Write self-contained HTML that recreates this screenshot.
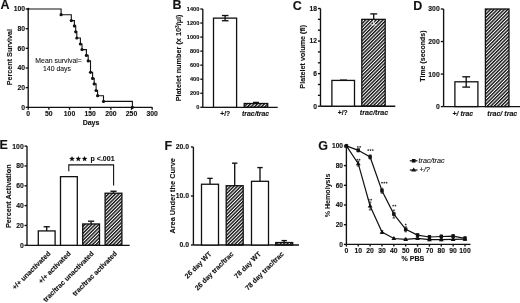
<!DOCTYPE html>
<html><head><meta charset="utf-8"><style>
html,body{margin:0;padding:0;background:#fff;width:520px;height:303px;overflow:hidden}
svg{display:block;font-family:"Liberation Sans", sans-serif;will-change:transform;filter:blur(0.3px)}
text{stroke:#111;stroke-width:0.12px}
</style></head><body>
<svg width="520" height="303" viewBox="0 0 520 303">
<defs><pattern id="h" width="2.45" height="10" patternUnits="userSpaceOnUse" patternTransform="rotate(45)"><rect width="1.4" height="10" fill="#111"/></pattern></defs>
<rect width="520" height="303" fill="#fff"/>
<text x="0.60" y="9.30" font-size="12.5" font-weight="bold" text-anchor="start" fill="#111">A</text>
<line x1="28.20" y1="9.00" x2="28.20" y2="107.30" stroke="#111" stroke-width="1.35"/>
<line x1="25.70" y1="107.30" x2="28.20" y2="107.30" stroke="#111" stroke-width="1.35"/>
<text x="25.00" y="109.73" font-size="6.8" font-weight="bold" text-anchor="end" fill="#111">0</text>
<line x1="25.70" y1="87.64" x2="28.20" y2="87.64" stroke="#111" stroke-width="1.35"/>
<text x="25.00" y="90.07" font-size="6.8" font-weight="bold" text-anchor="end" fill="#111">20</text>
<line x1="25.70" y1="67.98" x2="28.20" y2="67.98" stroke="#111" stroke-width="1.35"/>
<text x="25.00" y="70.41" font-size="6.8" font-weight="bold" text-anchor="end" fill="#111">40</text>
<line x1="25.70" y1="48.32" x2="28.20" y2="48.32" stroke="#111" stroke-width="1.35"/>
<text x="25.00" y="50.75" font-size="6.8" font-weight="bold" text-anchor="end" fill="#111">60</text>
<line x1="25.70" y1="28.66" x2="28.20" y2="28.66" stroke="#111" stroke-width="1.35"/>
<text x="25.00" y="31.09" font-size="6.8" font-weight="bold" text-anchor="end" fill="#111">80</text>
<line x1="25.70" y1="9.00" x2="28.20" y2="9.00" stroke="#111" stroke-width="1.35"/>
<text x="25.00" y="11.43" font-size="6.8" font-weight="bold" text-anchor="end" fill="#111">100</text>
<line x1="28.20" y1="107.30" x2="152.19" y2="107.30" stroke="#111" stroke-width="1.35"/>
<line x1="28.20" y1="107.30" x2="28.20" y2="109.80" stroke="#111" stroke-width="1.35"/>
<text x="28.20" y="116.48" font-size="6.8" font-weight="bold" text-anchor="middle" fill="#111">0</text>
<line x1="48.86" y1="107.30" x2="48.86" y2="109.80" stroke="#111" stroke-width="1.35"/>
<text x="48.86" y="116.48" font-size="6.8" font-weight="bold" text-anchor="middle" fill="#111">50</text>
<line x1="69.53" y1="107.30" x2="69.53" y2="109.80" stroke="#111" stroke-width="1.35"/>
<text x="69.53" y="116.48" font-size="6.8" font-weight="bold" text-anchor="middle" fill="#111">100</text>
<line x1="90.19" y1="107.30" x2="90.19" y2="109.80" stroke="#111" stroke-width="1.35"/>
<text x="90.19" y="116.48" font-size="6.8" font-weight="bold" text-anchor="middle" fill="#111">150</text>
<line x1="110.86" y1="107.30" x2="110.86" y2="109.80" stroke="#111" stroke-width="1.35"/>
<text x="110.86" y="116.48" font-size="6.8" font-weight="bold" text-anchor="middle" fill="#111">200</text>
<line x1="131.53" y1="107.30" x2="131.53" y2="109.80" stroke="#111" stroke-width="1.35"/>
<text x="131.53" y="116.48" font-size="6.8" font-weight="bold" text-anchor="middle" fill="#111">250</text>
<line x1="152.19" y1="107.30" x2="152.19" y2="109.80" stroke="#111" stroke-width="1.35"/>
<text x="152.19" y="116.48" font-size="6.8" font-weight="bold" text-anchor="middle" fill="#111">300</text>
<text x="91.00" y="124.60" font-size="7.0" font-weight="bold" text-anchor="middle" fill="#111">Days</text>
<text x="12.20" y="57.10" font-size="7.2" font-weight="bold" text-anchor="middle" fill="#111" transform="rotate(-90 12.20 57.10)">Percent Survival</text>
<text x="58.60" y="62.70" font-size="6.9" font-weight="normal" text-anchor="middle" fill="#111" style="stroke-width:0.08px">Mean survival=</text>
<text x="57.00" y="70.50" font-size="6.9" font-weight="normal" text-anchor="middle" fill="#111" style="stroke-width:0.08px">140 days</text>
<path d="M28.20,9.00 H61.10 V14.70 H71.30 V20.60 H74.40 V25.90 H75.70 V31.80 H76.80 V38.00 H80.40 V44.00 H82.00 V49.60 H86.40 V55.40 H88.20 V60.90 H90.50 V72.30 H92.60 V78.40 H94.20 V83.90 H96.10 V90.50 H97.60 V95.70 H103.50 V101.40 H132.40 V107.30" stroke="#111" stroke-width="1.1" fill="none"/>
<circle cx="61.10" cy="14.70" r="1.6" fill="#111"/>
<circle cx="71.30" cy="20.60" r="1.6" fill="#111"/>
<circle cx="74.40" cy="25.90" r="1.6" fill="#111"/>
<circle cx="75.70" cy="31.80" r="1.6" fill="#111"/>
<circle cx="76.80" cy="38.00" r="1.6" fill="#111"/>
<circle cx="80.40" cy="44.00" r="1.6" fill="#111"/>
<circle cx="82.00" cy="49.60" r="1.6" fill="#111"/>
<circle cx="86.40" cy="55.40" r="1.6" fill="#111"/>
<circle cx="88.20" cy="60.90" r="1.6" fill="#111"/>
<circle cx="90.50" cy="72.30" r="1.6" fill="#111"/>
<circle cx="92.60" cy="78.40" r="1.6" fill="#111"/>
<circle cx="94.20" cy="83.90" r="1.6" fill="#111"/>
<circle cx="96.10" cy="90.50" r="1.6" fill="#111"/>
<circle cx="97.60" cy="95.70" r="1.6" fill="#111"/>
<circle cx="103.50" cy="101.40" r="1.6" fill="#111"/>
<circle cx="132.40" cy="107.30" r="1.6" fill="#111"/>
<circle cx="28.20" cy="9.00" r="1.2" fill="#111"/>
<text x="172.60" y="9.20" font-size="12.5" font-weight="bold" text-anchor="start" fill="#111">B</text>
<line x1="202.80" y1="9.00" x2="202.80" y2="107.30" stroke="#111" stroke-width="1.35"/>
<line x1="200.30" y1="107.30" x2="202.80" y2="107.30" stroke="#111" stroke-width="1.35"/>
<text x="199.30" y="109.30" font-size="5.6" font-weight="bold" text-anchor="end" fill="#111">0</text>
<line x1="200.30" y1="93.26" x2="202.80" y2="93.26" stroke="#111" stroke-width="1.35"/>
<text x="199.30" y="95.26" font-size="5.6" font-weight="bold" text-anchor="end" fill="#111">200</text>
<line x1="200.30" y1="79.21" x2="202.80" y2="79.21" stroke="#111" stroke-width="1.35"/>
<text x="199.30" y="81.22" font-size="5.6" font-weight="bold" text-anchor="end" fill="#111">400</text>
<line x1="200.30" y1="65.17" x2="202.80" y2="65.17" stroke="#111" stroke-width="1.35"/>
<text x="199.30" y="67.18" font-size="5.6" font-weight="bold" text-anchor="end" fill="#111">600</text>
<line x1="200.30" y1="51.13" x2="202.80" y2="51.13" stroke="#111" stroke-width="1.35"/>
<text x="199.30" y="53.13" font-size="5.6" font-weight="bold" text-anchor="end" fill="#111">800</text>
<line x1="200.30" y1="37.09" x2="202.80" y2="37.09" stroke="#111" stroke-width="1.35"/>
<text x="199.30" y="39.09" font-size="5.6" font-weight="bold" text-anchor="end" fill="#111">1000</text>
<line x1="200.30" y1="23.04" x2="202.80" y2="23.04" stroke="#111" stroke-width="1.35"/>
<text x="199.30" y="25.05" font-size="5.6" font-weight="bold" text-anchor="end" fill="#111">1200</text>
<line x1="200.30" y1="9.00" x2="202.80" y2="9.00" stroke="#111" stroke-width="1.35"/>
<text x="199.30" y="11.00" font-size="5.6" font-weight="bold" text-anchor="end" fill="#111">1400</text>
<line x1="202.80" y1="107.30" x2="277.70" y2="107.30" stroke="#111" stroke-width="1.35"/>
<rect x="213.50" y="18.13" width="23.10" height="89.17" fill="#fff" stroke="#111" stroke-width="1.3"/>
<line x1="225.10" y1="15.53" x2="225.10" y2="20.73" stroke="#111" stroke-width="1.35"/>
<line x1="221.90" y1="15.53" x2="228.50" y2="15.53" stroke="#111" stroke-width="1.35"/>
<line x1="221.90" y1="20.73" x2="228.50" y2="20.73" stroke="#111" stroke-width="1.35"/>
<rect x="244.20" y="103.50" width="23.50" height="3.80" fill="url(#h)" stroke="#111" stroke-width="1.3"/>
<line x1="253.00" y1="102.40" x2="259.00" y2="102.40" stroke="#111" stroke-width="1.35"/>
<line x1="256.00" y1="102.40" x2="256.00" y2="103.50" stroke="#111" stroke-width="1.35"/>
<text x="225.30" y="115.60" font-size="6.7" font-weight="bold" text-anchor="middle" fill="#111">+/?</text>
<text x="255.60" y="115.60" font-size="6.9" font-weight="bold" font-style="italic" text-anchor="middle" fill="#111">trac/trac</text>
<text x="181.50" y="57.90" font-size="7.3" font-weight="bold" text-anchor="middle" fill="#111" transform="rotate(-90 181.50 57.90)">Platelet number (x 10<tspan font-size="5" dy="-2.6">3</tspan><tspan dy="2.6">/µl)</tspan></text>
<text x="292.80" y="9.80" font-size="12.5" font-weight="bold" text-anchor="start" fill="#111">C</text>
<line x1="320.50" y1="8.50" x2="320.50" y2="106.20" stroke="#111" stroke-width="1.35"/>
<line x1="317.90" y1="106.20" x2="320.50" y2="106.20" stroke="#111" stroke-width="1.35"/>
<text x="317.00" y="108.60" font-size="6.7" font-weight="bold" text-anchor="end" fill="#111">0</text>
<line x1="317.90" y1="73.63" x2="320.50" y2="73.63" stroke="#111" stroke-width="1.35"/>
<text x="317.00" y="76.03" font-size="6.7" font-weight="bold" text-anchor="end" fill="#111">6</text>
<line x1="317.90" y1="41.07" x2="320.50" y2="41.07" stroke="#111" stroke-width="1.35"/>
<text x="317.00" y="43.47" font-size="6.7" font-weight="bold" text-anchor="end" fill="#111">12</text>
<line x1="317.90" y1="8.50" x2="320.50" y2="8.50" stroke="#111" stroke-width="1.35"/>
<text x="317.00" y="10.90" font-size="6.7" font-weight="bold" text-anchor="end" fill="#111">18</text>
<line x1="317.90" y1="95.34" x2="320.50" y2="95.34" stroke="#111" stroke-width="1.35"/>
<line x1="317.90" y1="84.49" x2="320.50" y2="84.49" stroke="#111" stroke-width="1.35"/>
<line x1="317.90" y1="62.78" x2="320.50" y2="62.78" stroke="#111" stroke-width="1.35"/>
<line x1="317.90" y1="51.92" x2="320.50" y2="51.92" stroke="#111" stroke-width="1.35"/>
<line x1="317.90" y1="30.21" x2="320.50" y2="30.21" stroke="#111" stroke-width="1.35"/>
<line x1="317.90" y1="19.36" x2="320.50" y2="19.36" stroke="#111" stroke-width="1.35"/>
<line x1="320.50" y1="106.20" x2="395.30" y2="106.20" stroke="#111" stroke-width="1.35"/>
<rect x="331.90" y="80.42" width="22.60" height="25.78" fill="#fff" stroke="#111" stroke-width="1.3"/>
<line x1="340.00" y1="80.12" x2="347.00" y2="80.12" stroke="#111" stroke-width="1.35"/>
<rect x="361.80" y="19.36" width="23.40" height="86.84" fill="url(#h)" stroke="#111" stroke-width="1.3"/>
<line x1="373.70" y1="19.36" x2="373.70" y2="13.90" stroke="#111" stroke-width="1.35"/>
<line x1="370.30" y1="13.90" x2="377.20" y2="13.90" stroke="#111" stroke-width="1.35"/>
<line x1="373.70" y1="19.96" x2="373.70" y2="24.90" stroke="#fff" stroke-width="0.9"/>
<line x1="370.80" y1="24.90" x2="376.60" y2="24.90" stroke="#fff" stroke-width="0.9"/>
<text x="342.80" y="114.80" font-size="6.7" font-weight="bold" text-anchor="middle" fill="#111">+/?</text>
<text x="374.00" y="114.80" font-size="7.2" font-weight="bold" font-style="italic" text-anchor="middle" fill="#111">trac/trac</text>
<text x="304.90" y="56.70" font-size="7.2" font-weight="bold" text-anchor="middle" fill="#111" transform="rotate(-90 304.90 56.70)">Platelet volume (fl)</text>
<text x="413.20" y="10.30" font-size="12.5" font-weight="bold" text-anchor="start" fill="#111">D</text>
<line x1="443.60" y1="9.00" x2="443.60" y2="106.60" stroke="#111" stroke-width="1.35"/>
<line x1="440.80" y1="106.60" x2="443.60" y2="106.60" stroke="#111" stroke-width="1.35"/>
<text x="439.70" y="109.03" font-size="6.8" font-weight="bold" text-anchor="end" fill="#111">0</text>
<line x1="440.80" y1="74.07" x2="443.60" y2="74.07" stroke="#111" stroke-width="1.35"/>
<text x="439.70" y="76.50" font-size="6.8" font-weight="bold" text-anchor="end" fill="#111">100</text>
<line x1="440.80" y1="41.53" x2="443.60" y2="41.53" stroke="#111" stroke-width="1.35"/>
<text x="439.70" y="43.97" font-size="6.8" font-weight="bold" text-anchor="end" fill="#111">200</text>
<line x1="440.80" y1="9.00" x2="443.60" y2="9.00" stroke="#111" stroke-width="1.35"/>
<text x="439.70" y="11.43" font-size="6.8" font-weight="bold" text-anchor="end" fill="#111">300</text>
<line x1="443.60" y1="106.60" x2="520.00" y2="106.60" stroke="#111" stroke-width="1.35"/>
<rect x="454.90" y="81.80" width="23.00" height="24.80" fill="#fff" stroke="#111" stroke-width="1.3"/>
<line x1="466.20" y1="76.80" x2="466.20" y2="87.10" stroke="#111" stroke-width="1.35"/>
<line x1="462.30" y1="76.80" x2="470.10" y2="76.80" stroke="#111" stroke-width="1.35"/>
<line x1="462.30" y1="87.10" x2="470.10" y2="87.10" stroke="#111" stroke-width="1.35"/>
<rect x="485.40" y="9.00" width="23.60" height="97.60" fill="url(#h)" stroke="#111" stroke-width="1.3"/>
<text x="462.80" y="115.50" font-size="6.9" font-weight="bold" font-style="italic" text-anchor="middle" fill="#111">+/ trac</text>
<text x="502.30" y="115.50" font-size="7.1" font-weight="bold" font-style="italic" text-anchor="middle" fill="#111">trac/ trac</text>
<text x="425.30" y="56.10" font-size="7.0" font-weight="bold" text-anchor="middle" fill="#111" transform="rotate(-90 425.30 56.10)">Time (seconds)</text>
<text x="-0.60" y="149.10" font-size="12.5" font-weight="bold" text-anchor="start" fill="#111">E</text>
<line x1="27.00" y1="146.10" x2="27.00" y2="245.30" stroke="#111" stroke-width="1.35"/>
<line x1="24.50" y1="245.30" x2="27.00" y2="245.30" stroke="#111" stroke-width="1.35"/>
<text x="23.70" y="247.73" font-size="6.8" font-weight="bold" text-anchor="end" fill="#111">0</text>
<line x1="24.50" y1="225.46" x2="27.00" y2="225.46" stroke="#111" stroke-width="1.35"/>
<text x="23.70" y="227.89" font-size="6.8" font-weight="bold" text-anchor="end" fill="#111">20</text>
<line x1="24.50" y1="205.62" x2="27.00" y2="205.62" stroke="#111" stroke-width="1.35"/>
<text x="23.70" y="208.05" font-size="6.8" font-weight="bold" text-anchor="end" fill="#111">40</text>
<line x1="24.50" y1="185.78" x2="27.00" y2="185.78" stroke="#111" stroke-width="1.35"/>
<text x="23.70" y="188.21" font-size="6.8" font-weight="bold" text-anchor="end" fill="#111">60</text>
<line x1="24.50" y1="165.94" x2="27.00" y2="165.94" stroke="#111" stroke-width="1.35"/>
<text x="23.70" y="168.37" font-size="6.8" font-weight="bold" text-anchor="end" fill="#111">80</text>
<line x1="24.50" y1="146.10" x2="27.00" y2="146.10" stroke="#111" stroke-width="1.35"/>
<text x="23.70" y="148.53" font-size="6.8" font-weight="bold" text-anchor="end" fill="#111">100</text>
<line x1="27.00" y1="245.30" x2="129.70" y2="245.30" stroke="#111" stroke-width="1.35"/>
<rect x="38.30" y="230.92" width="16.80" height="14.38" fill="#fff" stroke="#111" stroke-width="1.3"/>
<line x1="46.70" y1="230.92" x2="46.70" y2="226.75" stroke="#111" stroke-width="1.35"/>
<line x1="43.60" y1="226.75" x2="49.80" y2="226.75" stroke="#111" stroke-width="1.35"/>
<rect x="60.50" y="176.65" width="16.80" height="68.65" fill="#fff" stroke="#111" stroke-width="1.3"/>
<rect x="82.70" y="223.97" width="16.80" height="21.33" fill="url(#h)" stroke="#111" stroke-width="1.3"/>
<line x1="91.10" y1="223.97" x2="91.10" y2="221.19" stroke="#111" stroke-width="1.35"/>
<line x1="88.00" y1="221.19" x2="94.20" y2="221.19" stroke="#111" stroke-width="1.35"/>
<rect x="105.10" y="193.22" width="16.80" height="52.08" fill="url(#h)" stroke="#111" stroke-width="1.3"/>
<line x1="113.50" y1="193.22" x2="113.50" y2="191.24" stroke="#111" stroke-width="1.35"/>
<line x1="110.40" y1="191.24" x2="116.60" y2="191.24" stroke="#111" stroke-width="1.35"/>
<path d="M68.8,171.2 V164.9 H113.6 V185.5" stroke="#111" stroke-width="1.1" fill="none"/>
<polygon points="72.00,155.90 72.79,157.81 74.85,157.97 73.28,159.32 73.76,161.33 72.00,160.25 70.24,161.33 70.72,159.32 69.15,157.97 71.21,157.81" fill="#111"/>
<polygon points="78.30,155.90 79.09,157.81 81.15,157.97 79.58,159.32 80.06,161.33 78.30,160.25 76.54,161.33 77.02,159.32 75.45,157.97 77.51,157.81" fill="#111"/>
<polygon points="84.60,155.90 85.39,157.81 87.45,157.97 85.88,159.32 86.36,161.33 84.60,160.25 82.84,161.33 83.32,159.32 81.75,157.97 83.81,157.81" fill="#111"/>
<text x="90.60" y="161.20" font-size="7.0" font-weight="bold" text-anchor="start" fill="#111">p &lt;.001</text>
<text x="11.40" y="196.20" font-size="7.3" font-weight="bold" text-anchor="middle" fill="#111" transform="rotate(-90 11.40 196.20)">Percent Activation</text>
<text x="51.00" y="254.00" font-size="7.0" font-weight="bold" text-anchor="end" fill="#111" transform="rotate(-45 51.00 254.00)">+/+ unactivated</text>
<text x="71.20" y="254.00" font-size="7.0" font-weight="bold" text-anchor="end" fill="#111" transform="rotate(-45 71.20 254.00)">+/+ activated</text>
<text x="94.40" y="254.00" font-size="7.0" font-weight="bold" text-anchor="end" fill="#111" transform="rotate(-45 94.40 254.00)">trac/trac unactivated</text>
<text x="117.60" y="254.00" font-size="7.0" font-weight="bold" text-anchor="end" fill="#111" transform="rotate(-45 117.60 254.00)">trac/trac activated</text>
<text x="164.40" y="149.60" font-size="12.5" font-weight="bold" text-anchor="start" fill="#111">F</text>
<line x1="193.40" y1="147.00" x2="193.40" y2="245.00" stroke="#111" stroke-width="1.35"/>
<line x1="190.90" y1="245.00" x2="193.40" y2="245.00" stroke="#111" stroke-width="1.35"/>
<text x="189.00" y="247.43" font-size="6.8" font-weight="bold" text-anchor="end" fill="#111">0.0</text>
<line x1="190.90" y1="196.00" x2="193.40" y2="196.00" stroke="#111" stroke-width="1.35"/>
<text x="189.00" y="198.43" font-size="6.8" font-weight="bold" text-anchor="end" fill="#111">10.0</text>
<line x1="190.90" y1="147.00" x2="193.40" y2="147.00" stroke="#111" stroke-width="1.35"/>
<text x="189.00" y="149.43" font-size="6.8" font-weight="bold" text-anchor="end" fill="#111">20.0</text>
<line x1="193.40" y1="245.00" x2="299.00" y2="245.00" stroke="#111" stroke-width="1.35"/>
<rect x="201.50" y="184.24" width="17.00" height="60.76" fill="#fff" stroke="#111" stroke-width="1.3"/>
<line x1="210.00" y1="184.24" x2="210.00" y2="178.36" stroke="#111" stroke-width="1.35"/>
<line x1="207.30" y1="178.36" x2="212.70" y2="178.36" stroke="#111" stroke-width="1.35"/>
<rect x="226.20" y="185.71" width="17.00" height="59.29" fill="url(#h)" stroke="#111" stroke-width="1.3"/>
<line x1="234.70" y1="185.71" x2="234.70" y2="163.17" stroke="#111" stroke-width="1.35"/>
<line x1="232.00" y1="163.17" x2="237.40" y2="163.17" stroke="#111" stroke-width="1.35"/>
<rect x="251.50" y="181.30" width="17.00" height="63.70" fill="#fff" stroke="#111" stroke-width="1.3"/>
<line x1="260.00" y1="181.30" x2="260.00" y2="167.58" stroke="#111" stroke-width="1.35"/>
<line x1="257.30" y1="167.58" x2="262.70" y2="167.58" stroke="#111" stroke-width="1.35"/>
<rect x="275.70" y="242.55" width="17.00" height="2.45" fill="url(#h)" stroke="#111" stroke-width="1.3"/>
<line x1="284.20" y1="242.55" x2="284.20" y2="240.59" stroke="#111" stroke-width="1.35"/>
<line x1="281.50" y1="240.59" x2="286.90" y2="240.59" stroke="#111" stroke-width="1.35"/>
<text x="175.30" y="195.80" font-size="7.35" font-weight="bold" text-anchor="middle" fill="#111" transform="rotate(-90 175.30 195.80)">Area Under the Curve</text>
<text x="212.00" y="254.40" font-size="7.0" font-weight="bold" text-anchor="end" fill="#111" transform="rotate(-45 212.00 254.40)">26 day WT</text>
<text x="234.00" y="254.40" font-size="7.0" font-weight="bold" text-anchor="end" fill="#111" transform="rotate(-45 234.00 254.40)">26 day trac/trac</text>
<text x="261.50" y="254.40" font-size="7.0" font-weight="bold" text-anchor="end" fill="#111" transform="rotate(-45 261.50 254.40)">78 day WT</text>
<text x="284.30" y="254.40" font-size="7.0" font-weight="bold" text-anchor="end" fill="#111" transform="rotate(-45 284.30 254.40)">78 day trac/trac</text>
<text x="318.20" y="150.00" font-size="12.5" font-weight="bold" text-anchor="start" fill="#111">G</text>
<line x1="346.40" y1="145.90" x2="346.40" y2="244.40" stroke="#111" stroke-width="1.35"/>
<line x1="343.90" y1="244.40" x2="346.40" y2="244.40" stroke="#111" stroke-width="1.35"/>
<text x="343.00" y="246.76" font-size="6.6" font-weight="bold" text-anchor="end" fill="#111">0</text>
<line x1="343.90" y1="224.70" x2="346.40" y2="224.70" stroke="#111" stroke-width="1.35"/>
<text x="343.00" y="227.06" font-size="6.6" font-weight="bold" text-anchor="end" fill="#111">20</text>
<line x1="343.90" y1="205.00" x2="346.40" y2="205.00" stroke="#111" stroke-width="1.35"/>
<text x="343.00" y="207.36" font-size="6.6" font-weight="bold" text-anchor="end" fill="#111">40</text>
<line x1="343.90" y1="185.30" x2="346.40" y2="185.30" stroke="#111" stroke-width="1.35"/>
<text x="343.00" y="187.66" font-size="6.6" font-weight="bold" text-anchor="end" fill="#111">60</text>
<line x1="343.90" y1="165.60" x2="346.40" y2="165.60" stroke="#111" stroke-width="1.35"/>
<text x="343.00" y="167.96" font-size="6.6" font-weight="bold" text-anchor="end" fill="#111">80</text>
<line x1="343.90" y1="145.90" x2="346.40" y2="145.90" stroke="#111" stroke-width="1.35"/>
<text x="343.00" y="148.26" font-size="6.6" font-weight="bold" text-anchor="end" fill="#111">100</text>
<line x1="346.40" y1="244.40" x2="470.50" y2="244.40" stroke="#111" stroke-width="1.35"/>
<line x1="346.40" y1="244.40" x2="346.40" y2="246.60" stroke="#111" stroke-width="1.35"/>
<text x="346.40" y="253.43" font-size="6.8" font-weight="bold" text-anchor="middle" fill="#111">0</text>
<line x1="358.26" y1="244.40" x2="358.26" y2="246.60" stroke="#111" stroke-width="1.35"/>
<text x="358.26" y="253.43" font-size="6.8" font-weight="bold" text-anchor="middle" fill="#111">10</text>
<line x1="370.12" y1="244.40" x2="370.12" y2="246.60" stroke="#111" stroke-width="1.35"/>
<text x="370.12" y="253.43" font-size="6.8" font-weight="bold" text-anchor="middle" fill="#111">20</text>
<line x1="381.98" y1="244.40" x2="381.98" y2="246.60" stroke="#111" stroke-width="1.35"/>
<text x="381.98" y="253.43" font-size="6.8" font-weight="bold" text-anchor="middle" fill="#111">30</text>
<line x1="393.84" y1="244.40" x2="393.84" y2="246.60" stroke="#111" stroke-width="1.35"/>
<text x="393.84" y="253.43" font-size="6.8" font-weight="bold" text-anchor="middle" fill="#111">40</text>
<line x1="405.70" y1="244.40" x2="405.70" y2="246.60" stroke="#111" stroke-width="1.35"/>
<text x="405.70" y="253.43" font-size="6.8" font-weight="bold" text-anchor="middle" fill="#111">50</text>
<line x1="417.56" y1="244.40" x2="417.56" y2="246.60" stroke="#111" stroke-width="1.35"/>
<text x="417.56" y="253.43" font-size="6.8" font-weight="bold" text-anchor="middle" fill="#111">60</text>
<line x1="429.42" y1="244.40" x2="429.42" y2="246.60" stroke="#111" stroke-width="1.35"/>
<text x="429.42" y="253.43" font-size="6.8" font-weight="bold" text-anchor="middle" fill="#111">70</text>
<line x1="441.28" y1="244.40" x2="441.28" y2="246.60" stroke="#111" stroke-width="1.35"/>
<text x="441.28" y="253.43" font-size="6.8" font-weight="bold" text-anchor="middle" fill="#111">80</text>
<line x1="453.14" y1="244.40" x2="453.14" y2="246.60" stroke="#111" stroke-width="1.35"/>
<text x="453.14" y="253.43" font-size="6.8" font-weight="bold" text-anchor="middle" fill="#111">90</text>
<line x1="465.00" y1="244.40" x2="465.00" y2="246.60" stroke="#111" stroke-width="1.35"/>
<text x="465.00" y="253.43" font-size="6.8" font-weight="bold" text-anchor="middle" fill="#111">100</text>
<text x="412.90" y="261.00" font-size="7.1" font-weight="bold" text-anchor="middle" fill="#111">% PBS</text>
<text x="329.80" y="195.40" font-size="7.1" font-weight="bold" text-anchor="middle" fill="#111" transform="rotate(-90 329.80 195.40)" style="stroke-width:0.05px">% Hemolysis</text>
<path d="M346.40,145.90 L358.26,150.33 L370.12,156.93 L381.98,190.72 L393.84,214.06 L405.70,229.33 L417.56,235.14 L429.42,237.01 L441.28,236.52 L453.14,236.13 L465.00,238.29" stroke="#111" stroke-width="1.2" fill="none"/>
<path d="M346.40,145.90 L358.26,163.63 L370.12,205.99 L381.98,232.09 L393.84,238.49 L405.70,239.38 L417.56,238.29 L429.42,239.67 L441.28,239.67 L453.14,239.38 L465.00,239.18" stroke="#111" stroke-width="1.2" fill="none"/>
<rect x="344.65" y="144.15" width="3.5" height="3.5" fill="#111"/>
<rect x="356.51" y="148.58" width="3.5" height="3.5" fill="#111"/>
<rect x="368.37" y="155.18" width="3.5" height="3.5" fill="#111"/>
<rect x="380.23" y="188.97" width="3.5" height="3.5" fill="#111"/>
<rect x="392.09" y="212.31" width="3.5" height="3.5" fill="#111"/>
<rect x="403.95" y="227.58" width="3.5" height="3.5" fill="#111"/>
<rect x="415.81" y="233.39" width="3.5" height="3.5" fill="#111"/>
<rect x="427.67" y="235.26" width="3.5" height="3.5" fill="#111"/>
<rect x="439.53" y="234.77" width="3.5" height="3.5" fill="#111"/>
<rect x="451.39" y="234.38" width="3.5" height="3.5" fill="#111"/>
<rect x="463.25" y="236.54" width="3.5" height="3.5" fill="#111"/>
<path d="M346.40,143.50 L348.80,147.50 L344.00,147.50 Z" fill="#111"/>
<path d="M358.26,161.23 L360.66,165.23 L355.86,165.23 Z" fill="#111"/>
<path d="M370.12,203.59 L372.52,207.59 L367.72,207.59 Z" fill="#111"/>
<path d="M381.98,229.69 L384.38,233.69 L379.58,233.69 Z" fill="#111"/>
<path d="M393.84,236.09 L396.24,240.09 L391.44,240.09 Z" fill="#111"/>
<path d="M405.70,236.98 L408.10,240.98 L403.30,240.98 Z" fill="#111"/>
<path d="M417.56,235.89 L419.96,239.89 L415.16,239.89 Z" fill="#111"/>
<path d="M429.42,237.27 L431.82,241.27 L427.02,241.27 Z" fill="#111"/>
<path d="M441.28,237.27 L443.68,241.27 L438.88,241.27 Z" fill="#111"/>
<path d="M453.14,236.98 L455.54,240.98 L450.74,240.98 Z" fill="#111"/>
<path d="M465.00,236.78 L467.40,240.78 L462.60,240.78 Z" fill="#111"/>
<line x1="358.26" y1="151.81" x2="358.26" y2="148.86" stroke="#111" stroke-width="0.8"/>
<line x1="356.96" y1="148.86" x2="359.56" y2="148.86" stroke="#111" stroke-width="0.8"/>
<line x1="356.96" y1="151.81" x2="359.56" y2="151.81" stroke="#111" stroke-width="0.8"/>
<line x1="370.12" y1="158.90" x2="370.12" y2="154.96" stroke="#111" stroke-width="0.8"/>
<line x1="368.82" y1="154.96" x2="371.42" y2="154.96" stroke="#111" stroke-width="0.8"/>
<line x1="368.82" y1="158.90" x2="371.42" y2="158.90" stroke="#111" stroke-width="0.8"/>
<line x1="381.98" y1="193.18" x2="381.98" y2="188.25" stroke="#111" stroke-width="0.8"/>
<line x1="380.68" y1="188.25" x2="383.28" y2="188.25" stroke="#111" stroke-width="0.8"/>
<line x1="380.68" y1="193.18" x2="383.28" y2="193.18" stroke="#111" stroke-width="0.8"/>
<line x1="393.84" y1="218.00" x2="393.84" y2="210.12" stroke="#111" stroke-width="0.8"/>
<line x1="392.54" y1="210.12" x2="395.14" y2="210.12" stroke="#111" stroke-width="0.8"/>
<line x1="392.54" y1="218.00" x2="395.14" y2="218.00" stroke="#111" stroke-width="0.8"/>
<line x1="405.70" y1="231.79" x2="405.70" y2="226.87" stroke="#111" stroke-width="0.8"/>
<line x1="404.40" y1="226.87" x2="407.00" y2="226.87" stroke="#111" stroke-width="0.8"/>
<line x1="404.40" y1="231.79" x2="407.00" y2="231.79" stroke="#111" stroke-width="0.8"/>
<line x1="417.56" y1="236.62" x2="417.56" y2="233.66" stroke="#111" stroke-width="0.8"/>
<line x1="416.26" y1="233.66" x2="418.86" y2="233.66" stroke="#111" stroke-width="0.8"/>
<line x1="416.26" y1="236.62" x2="418.86" y2="236.62" stroke="#111" stroke-width="0.8"/>
<line x1="429.42" y1="238.49" x2="429.42" y2="235.53" stroke="#111" stroke-width="0.8"/>
<line x1="428.12" y1="235.53" x2="430.72" y2="235.53" stroke="#111" stroke-width="0.8"/>
<line x1="428.12" y1="238.49" x2="430.72" y2="238.49" stroke="#111" stroke-width="0.8"/>
<line x1="441.28" y1="238.00" x2="441.28" y2="235.04" stroke="#111" stroke-width="0.8"/>
<line x1="439.98" y1="235.04" x2="442.58" y2="235.04" stroke="#111" stroke-width="0.8"/>
<line x1="439.98" y1="238.00" x2="442.58" y2="238.00" stroke="#111" stroke-width="0.8"/>
<line x1="453.14" y1="237.60" x2="453.14" y2="234.65" stroke="#111" stroke-width="0.8"/>
<line x1="451.84" y1="234.65" x2="454.44" y2="234.65" stroke="#111" stroke-width="0.8"/>
<line x1="451.84" y1="237.60" x2="454.44" y2="237.60" stroke="#111" stroke-width="0.8"/>
<line x1="465.00" y1="239.77" x2="465.00" y2="236.82" stroke="#111" stroke-width="0.8"/>
<line x1="463.70" y1="236.82" x2="466.30" y2="236.82" stroke="#111" stroke-width="0.8"/>
<line x1="463.70" y1="239.77" x2="466.30" y2="239.77" stroke="#111" stroke-width="0.8"/>
<line x1="358.26" y1="166.09" x2="358.26" y2="161.17" stroke="#111" stroke-width="0.8"/>
<line x1="356.96" y1="161.17" x2="359.56" y2="161.17" stroke="#111" stroke-width="0.8"/>
<line x1="356.96" y1="166.09" x2="359.56" y2="166.09" stroke="#111" stroke-width="0.8"/>
<line x1="370.12" y1="209.93" x2="370.12" y2="202.05" stroke="#111" stroke-width="0.8"/>
<line x1="368.82" y1="202.05" x2="371.42" y2="202.05" stroke="#111" stroke-width="0.8"/>
<line x1="368.82" y1="209.93" x2="371.42" y2="209.93" stroke="#111" stroke-width="0.8"/>
<line x1="381.98" y1="233.56" x2="381.98" y2="230.61" stroke="#111" stroke-width="0.8"/>
<line x1="380.68" y1="230.61" x2="383.28" y2="230.61" stroke="#111" stroke-width="0.8"/>
<line x1="380.68" y1="233.56" x2="383.28" y2="233.56" stroke="#111" stroke-width="0.8"/>
<line x1="393.84" y1="239.47" x2="393.84" y2="237.50" stroke="#111" stroke-width="0.8"/>
<line x1="392.54" y1="237.50" x2="395.14" y2="237.50" stroke="#111" stroke-width="0.8"/>
<line x1="392.54" y1="239.47" x2="395.14" y2="239.47" stroke="#111" stroke-width="0.8"/>
<line x1="405.70" y1="240.36" x2="405.70" y2="238.39" stroke="#111" stroke-width="0.8"/>
<line x1="404.40" y1="238.39" x2="407.00" y2="238.39" stroke="#111" stroke-width="0.8"/>
<line x1="404.40" y1="240.36" x2="407.00" y2="240.36" stroke="#111" stroke-width="0.8"/>
<line x1="417.56" y1="239.28" x2="417.56" y2="237.31" stroke="#111" stroke-width="0.8"/>
<line x1="416.26" y1="237.31" x2="418.86" y2="237.31" stroke="#111" stroke-width="0.8"/>
<line x1="416.26" y1="239.28" x2="418.86" y2="239.28" stroke="#111" stroke-width="0.8"/>
<line x1="429.42" y1="240.66" x2="429.42" y2="238.69" stroke="#111" stroke-width="0.8"/>
<line x1="428.12" y1="238.69" x2="430.72" y2="238.69" stroke="#111" stroke-width="0.8"/>
<line x1="428.12" y1="240.66" x2="430.72" y2="240.66" stroke="#111" stroke-width="0.8"/>
<line x1="441.28" y1="240.66" x2="441.28" y2="238.69" stroke="#111" stroke-width="0.8"/>
<line x1="439.98" y1="238.69" x2="442.58" y2="238.69" stroke="#111" stroke-width="0.8"/>
<line x1="439.98" y1="240.66" x2="442.58" y2="240.66" stroke="#111" stroke-width="0.8"/>
<line x1="453.14" y1="240.36" x2="453.14" y2="238.39" stroke="#111" stroke-width="0.8"/>
<line x1="451.84" y1="238.39" x2="454.44" y2="238.39" stroke="#111" stroke-width="0.8"/>
<line x1="451.84" y1="240.36" x2="454.44" y2="240.36" stroke="#111" stroke-width="0.8"/>
<line x1="465.00" y1="240.16" x2="465.00" y2="238.19" stroke="#111" stroke-width="0.8"/>
<line x1="463.70" y1="238.19" x2="466.30" y2="238.19" stroke="#111" stroke-width="0.8"/>
<line x1="463.70" y1="240.16" x2="466.30" y2="240.16" stroke="#111" stroke-width="0.8"/>
<polygon points="357.85,145.75 358.18,146.54 359.04,146.61 358.38,147.17 358.58,148.01 357.85,147.56 357.12,148.01 357.32,147.17 356.66,146.61 357.52,146.54" fill="#111"/>
<polygon points="360.15,145.75 360.48,146.54 361.34,146.61 360.68,147.17 360.88,148.01 360.15,147.56 359.42,148.01 359.62,147.17 358.96,146.61 359.82,146.54" fill="#111"/>
<polygon points="368.20,148.85 368.53,149.64 369.39,149.71 368.73,150.27 368.93,151.11 368.20,150.66 367.47,151.11 367.67,150.27 367.01,149.71 367.87,149.64" fill="#111"/>
<polygon points="370.50,148.85 370.83,149.64 371.69,149.71 371.03,150.27 371.23,151.11 370.50,150.66 369.77,151.11 369.97,150.27 369.31,149.71 370.17,149.64" fill="#111"/>
<polygon points="372.80,148.85 373.13,149.64 373.99,149.71 373.33,150.27 373.53,151.11 372.80,150.66 372.07,151.11 372.27,150.27 371.61,149.71 372.47,149.64" fill="#111"/>
<polygon points="382.00,181.55 382.33,182.34 383.19,182.41 382.53,182.97 382.73,183.81 382.00,183.36 381.27,183.81 381.47,182.97 380.81,182.41 381.67,182.34" fill="#111"/>
<polygon points="384.30,181.55 384.63,182.34 385.49,182.41 384.83,182.97 385.03,183.81 384.30,183.36 383.57,183.81 383.77,182.97 383.11,182.41 383.97,182.34" fill="#111"/>
<polygon points="386.60,181.55 386.93,182.34 387.79,182.41 387.13,182.97 387.33,183.81 386.60,183.36 385.87,183.81 386.07,182.97 385.41,182.41 386.27,182.34" fill="#111"/>
<polygon points="393.15,204.35 393.48,205.14 394.34,205.21 393.68,205.77 393.88,206.61 393.15,206.16 392.42,206.61 392.62,205.77 391.96,205.21 392.82,205.14" fill="#111"/>
<polygon points="395.45,204.35 395.78,205.14 396.64,205.21 395.98,205.77 396.18,206.61 395.45,206.16 394.72,206.61 394.92,205.77 394.26,205.21 395.12,205.14" fill="#111"/>
<polygon points="405.70,223.15 406.03,223.94 406.89,224.01 406.23,224.57 406.43,225.41 405.70,224.96 404.97,225.41 405.17,224.57 404.51,224.01 405.37,223.94" fill="#111"/>
<polygon points="357.25,158.55 357.58,159.34 358.44,159.41 357.78,159.97 357.98,160.81 357.25,160.36 356.52,160.81 356.72,159.97 356.06,159.41 356.92,159.34" fill="#111"/>
<polygon points="359.55,158.55 359.88,159.34 360.74,159.41 360.08,159.97 360.28,160.81 359.55,160.36 358.82,160.81 359.02,159.97 358.36,159.41 359.22,159.34" fill="#111"/>
<polygon points="368.85,198.55 369.18,199.34 370.04,199.41 369.38,199.97 369.58,200.81 368.85,200.36 368.12,200.81 368.32,199.97 367.66,199.41 368.52,199.34" fill="#111"/>
<polygon points="371.15,198.55 371.48,199.34 372.34,199.41 371.68,199.97 371.88,200.81 371.15,200.36 370.42,200.81 370.62,199.97 369.96,199.41 370.82,199.34" fill="#111"/>
<line x1="409.80" y1="160.80" x2="417.50" y2="160.80" stroke="#111" stroke-width="1.2"/>
<rect x="411.9" y="159.0" width="3.6" height="3.6" fill="#111"/>
<text x="418.60" y="163.20" font-size="7.2" font-weight="normal" font-style="italic" text-anchor="start" fill="#111" style="stroke-width:0.12px">trac/trac</text>
<line x1="409.80" y1="170.00" x2="417.50" y2="170.00" stroke="#111" stroke-width="1.2"/>
<path d="M413.7,167.4 L416.2,171.5 L411.2,171.5 Z" fill="#111"/>
<text x="419.60" y="172.00" font-size="7.2" font-weight="normal" font-style="italic" text-anchor="start" fill="#111" style="stroke-width:0.12px">+/?</text>
</svg>
</body></html>
